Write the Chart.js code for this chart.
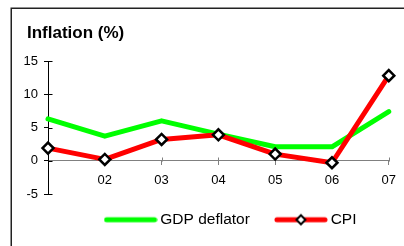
<!DOCTYPE html>
<html>
<head>
<meta charset="utf-8">
<script src="https://cdn.jsdelivr.net/npm/chart.js@4/dist/chart.umd.min.js"></script>
<style>
  html, body { margin: 0; padding: 0; background: #fff; }
  #wrap { width: 404px; height: 246px; }
</style>
</head>
<body>
<div id="wrap"><canvas id="inflChart" width="404" height="246"></canvas></div>
<script>
const years = ['01', '02', '03', '04', '05', '06', '07'];
const xTickLabels = ['', '02', '03', '04', '05', '06', '07'];
const gdpDeflator = [6.3, 3.7, 6.0, 4.0, 2.1, 2.1, 7.4];
const cpi = [1.9, 0.2, 3.2, 3.9, 1.0, -0.3, 12.8];
const yMin = -5, yMax = 15, yStep = 5;

const FONT = 'Arial, "Liberation Sans", sans-serif';
Chart.defaults.font.family = FONT;
Chart.defaults.color = '#000';

// legend glyph: thick line, optional diamond in the middle
function legendSymbol(color, withMarker) {
    const c = document.createElement('canvas');
    c.width = 54; c.height = 14;
    const g = c.getContext('2d');
    g.strokeStyle = color;
    g.lineWidth = 5;
    g.lineCap = 'round';
    g.beginPath();
    g.moveTo(3, 7);
    g.lineTo(51, 7);
    g.stroke();
    if (withMarker) {
        g.beginPath();
        g.moveTo(27 - 4.5, 7);
        g.lineTo(27, 7 - 4.5);
        g.lineTo(27 + 4.5, 7);
        g.lineTo(27, 7 + 4.5);
        g.closePath();
        g.fillStyle = '#fff';
        g.fill();
        g.lineWidth = 2;
        g.strokeStyle = '#000';
        g.stroke();
    }
    return c;
}

const frame = {
    id: 'frame',
    beforeDraw(chart) {
        const ctx = chart.ctx;
        ctx.save();
        ctx.strokeStyle = '#222';
        ctx.lineWidth = 1.5;
        ctx.strokeRect(11.25, 8.25, 420, 260);
        ctx.restore();
    }
};

// ticks that cross the axis: draw the inner half
const innerTicks = {
    id: 'innerTicks',
    beforeDatasetsDraw(chart) {
        const {ctx, scales: {x, y}} = chart;
        const y0 = Math.round(y.getPixelForValue(0)) + 0.5;
        const xl = Math.round(y.right) + 0.5;
        ctx.save();
        ctx.lineWidth = 1;
        ctx.strokeStyle = '#000';
        y.ticks.forEach(t => {
            const py = Math.round(y.getPixelForValue(t.value)) + 0.5;
            ctx.beginPath();
            ctx.moveTo(xl, py);
            ctx.lineTo(xl + 4, py);
            ctx.stroke();
        });
        ctx.strokeStyle = '#808080';
        x.ticks.forEach((t, i) => {
            if (i === 0) return;
            const px = Math.round(x.getPixelForTick(i)) + 0.5;
            ctx.beginPath();
            ctx.moveTo(px, y0 - 4);
            ctx.lineTo(px, y0);
            ctx.stroke();
        });
        ctx.restore();
    }
};

// nudge title and legend to where the original puts them
const placeBlocks = {
    id: 'placeBlocks',
    afterLayout(chart) {
        const tb = chart.titleBlock;
        tb.left += 9; tb.right += 9;
        const lg = chart.legend;
        lg.left += 27.5; lg.right += 27.5;
        lg.top -= 11; lg.bottom -= 11;
    }
};

new Chart(document.getElementById('inflChart'), {
    type: 'line',
    data: {
        labels: years,
        datasets: [
            {
                label: 'GDP deflator',
                data: gdpDeflator,
                borderColor: '#00ff00',
                borderWidth: 5,
                pointRadius: 0,
                tension: 0,
                borderJoinStyle: 'round',
                borderCapStyle: 'round',
                clip: false,
                order: 2
            },
            {
                label: 'CPI',
                data: cpi,
                borderColor: '#ff0000',
                borderWidth: 5,
                pointStyle: 'rectRot',
                pointRadius: 5.5,
                pointBorderWidth: 2.5,
                pointBackgroundColor: '#fff',
                pointBorderColor: '#000',
                tension: 0,
                borderJoinStyle: 'round',
                borderCapStyle: 'round',
                clip: false,
                order: 1
            }
        ]
    },
    options: {
        responsive: false,
        animation: false,
        layout: { padding: { left: 18, right: 12, top: 0, bottom: -2.5 } },
        plugins: {
            tooltip: { enabled: false },
            title: {
                display: true,
                text: 'Inflation (%)',
                align: 'start',
                font: { size: 17, weight: 'bold', family: FONT },
                color: '#000',
                padding: { top: 23.5, bottom: 17.1 }
            },
            legend: {
                position: 'bottom',
                labels: {
                    usePointStyle: true,
                    pointStyleWidth: 44,
                    padding: 29,
                    font: { size: 15.5, family: FONT },
                    color: '#000',
                    generateLabels(chart) {
                        return chart.data.datasets.map((ds, i) => ({
                            text: ds.label,
                            datasetIndex: i,
                            hidden: false,
                            lineWidth: 0,
                            fontColor: '#000',
                            pointStyle: legendSymbol(ds.borderColor, i === 1)
                        }));
                    }
                }
            }
        },
        scales: {
            x: {
                position: { y: 0 },
                offset: false,
                grid: { drawOnChartArea: false, color: '#808080', tickLength: 4 },
                border: { color: '#808080', width: 1 },
                ticks: {
                    padding: 8,
                    maxRotation: 0,
                    autoSkip: false,
                    font: { size: 13 },
                    callback: (v, i) => xTickLabels[i]
                }
            },
            y: {
                min: yMin,
                max: yMax,
                grid: { drawOnChartArea: false, color: '#000', tickLength: 4 },
                border: { color: '#000', width: 1 },
                ticks: { stepSize: yStep, padding: 6, font: { size: 13 } },
                afterFit(scale) { scale.width = 30; }
            }
        }
    },
    plugins: [frame, innerTicks, placeBlocks]
});
</script>
</body>
</html>
